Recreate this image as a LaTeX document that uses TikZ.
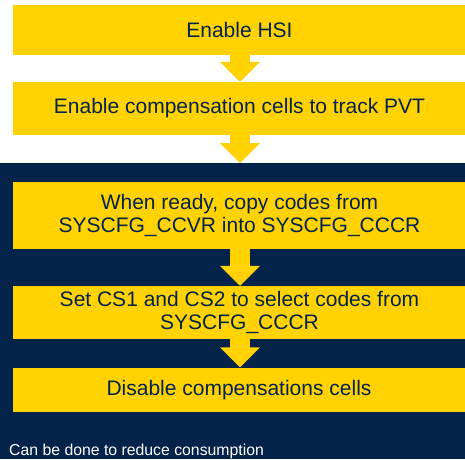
\documentclass[tikz,border=0pt]{standalone}
\usepackage{fontspec}
\setmainfont{Liberation Sans}
\usetikzlibrary{arrows.meta}
\definecolor{stblue}{HTML}{03234B}
\definecolor{styellow}{HTML}{FFD200}
\tikzset{
  stepbox/.style={fill=styellow, text=stblue, align=center, inner sep=0pt,
    minimum width=453pt, font=\fontsize{21}{23.5}\selectfont},
  flowarrow/.style={styellow, line width=20pt, -{Triangle[length=20pt, width=39pt]}}
}
\begin{document}
\begin{tikzpicture}[x=1pt, y=-1pt]
        % Fond
        \useasboundingbox (0,0) rectangle (465,459);
        \fill[white] (0,0) rectangle (465,163);
        \fill[stblue] (0,163) rectangle (465,459);
        % Etapes
        \node[stepbox, minimum height=50pt] (hsi) at (239.5,30) {Enable HSI};
        \node[stepbox, minimum height=53pt] (cells) at (239.5,108.5) {Enable compensation cells to track PVT};
        \node[stepbox, minimum height=67pt] (copy) at (239.5,215.5) {When ready, copy codes from\\SYSCFG\_CCVR into SYSCFG\_CCCR};
        \node[stepbox, minimum height=53pt] (select) at (239.5,312.5) {Set CS1 and CS2 to select codes from\\SYSCFG\_CCCR};
        \node[stepbox, minimum height=44.5pt] (disable) at (239,389.75) {Disable compensations cells};
        % Fleches
        \draw[flowarrow] (hsi.south -| 240,0) -- (cells.north -| 240,0);
        \draw[flowarrow] (cells.south -| 240,0) -- (240,163);
        \draw[flowarrow] (copy.south -| 240,0) -- (select.north -| 240,0);
        \draw[flowarrow] (select.south -| 240,0) -- (disable.north -| 240,0);
        % Note
        \node[anchor=base west, inner sep=0pt, text=white, font=\fontsize{15.8}{18}\selectfont] (note) at (9,455) {Can be done to reduce consumption};
    \end{tikzpicture}
\end{document}
